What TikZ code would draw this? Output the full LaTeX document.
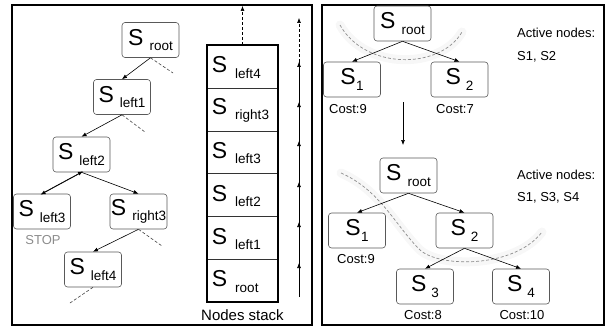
\documentclass[tikz,border=0pt]{standalone}
\usepackage{fontspec}
\setmainfont{Liberation Sans}
\usetikzlibrary{arrows.meta}
\newcommand{\sn}[2][6pt]{{\fontsize{23}{23}\selectfont S}\hspace{#1}\raisebox{-5.5pt}{\fontsize{13.5}{13.5}\selectfont #2}}
\begin{document}
\begin{tikzpicture}[x=1pt,y=-1pt,
  sbox/.style={draw=black!65,rounded corners=3pt,minimum width=57pt,minimum height=35pt,inner sep=0pt,line width=0.6pt},
  cell/.style={draw=black!80,minimum width=71pt,minimum height=42.8pt,inner sep=0pt,line width=0.6pt},
  celltext/.style={anchor=west,inner sep=0pt},
  arr/.style={-{Latex[length=5pt,width=4pt]},line width=0.6pt},
  dsh/.style={dashed,dash pattern=on 3pt off 2pt,line width=0.6pt,black!75},
  lbl/.style={font=\fontsize{13}{13}\selectfont,inner sep=0pt},
  act/.style={font=\fontsize{13}{14}\selectfont,anchor=west,inner sep=0pt},
  frame/.style={line width=1.6pt},
  curve/.style={dashed,dash pattern=on 3pt off 2pt,black!45,line width=0.7pt},
  glow/.style={black!3,line width=9pt,line cap=round}
]
\useasboundingbox (0,0) rectangle (608,329);
% frames
\draw[frame] (12,5) rectangle (312,325);
\draw[frame] (322,5) rectangle (604,325);

% ---------------- left tree
\node[sbox] (lroot) at (150.5,40) {\sn{root}};
\node[sbox] (l1) at (122,97) {\sn{left1}};
\node[sbox] (l2) at (81.5,154.5) {\sn{left2}};
\node[sbox] (l3) at (42,211.5) {\sn{left3}};
\node[sbox] (r3) at (138.5,211.5) {\sn{right3}};
\node[sbox] (l4) at (93,269.5) {\sn{left4}};
\node[font=\fontsize{13}{13}\selectfont,text=black!45,inner sep=0pt] (stop) at (43,240) {STOP};

\draw[arr] (lroot.south) -- (l1.north);
\draw[arr] (l1.south) -- (l2.north);
\draw[arr] ([xshift=-1.5pt,yshift=-1pt]l2.south) -- ([xshift=-1.5pt,yshift=-1pt]l3.north);
\draw[arr] ([xshift=1.5pt,yshift=1pt]l3.north) -- ([xshift=1.5pt,yshift=1pt]l2.south);
\draw[arr] (l2.south) -- (r3.north);
\draw[arr] (r3.south) -- (l4.north);
\coordinate (d1) at (173,73);
\coordinate (d2) at (145,132);
\coordinate (d3) at (162,246);
\coordinate (d4) at (70,303);
\draw[dsh] (lroot.south) -- (d1);
\draw[dsh] (l1.south) -- (d2);
\draw[dsh] (r3.south) -- (d3);
\draw[dsh] (l4.south) -- (d4);

% ---------------- stack
\node[cell] (c1) at (242.5,280.6) {};
\node[cell] (c2) at (242.5,237.8) {};
\node[cell] (c3) at (242.5,195.0) {};
\node[cell] (c4) at (242.5,152.2) {};
\node[cell] (c5) at (242.5,109.4) {};
\node[cell] (c6) at (242.5,66.6) {};
\node[celltext] at ([xshift=5pt,yshift=-1pt]c1.west) {\sn[8pt]{root}};
\node[celltext] at ([xshift=5pt,yshift=-1pt]c2.west) {\sn[8pt]{left1}};
\node[celltext] at ([xshift=5pt,yshift=-1pt]c3.west) {\sn[8pt]{left2}};
\node[celltext] at ([xshift=5pt,yshift=-1pt]c4.west) {\sn[8pt]{left3}};
\node[celltext] at ([xshift=5pt,yshift=-1pt]c5.west) {\sn[8pt]{right3}};
\node[celltext] at ([xshift=5pt,yshift=-1pt]c6.west) {\sn[8pt]{left4}};
\draw[line width=2pt] (c6.north west) rectangle (c1.south east);
\node[font=\fontsize{15}{15}\selectfont,inner sep=0pt] (nstack) at (242.5,315) {Nodes stack};
\coordinate (stop1) at (242.5,6);
\draw[dsh,black,-{Latex[length=5pt,width=4pt]}] (c6.north) -- (stop1);

% vertical arrow line
\coordinate (v0) at (299,297);
\coordinate (v1) at (299,263);
\coordinate (v2) at (299,222);
\coordinate (v3) at (299,182);
\coordinate (v4) at (299,141);
\coordinate (v5) at (299,102);
\coordinate (v6) at (299,62);
\coordinate (v7) at (299,18);
\draw[line width=0.6pt] (v0) -- (v6);
\foreach \p in {v1,v2,v3,v4,v5,v6}
  \draw[arr] ([yshift=-6pt]\p) -- (\p);
\draw[dsh,black,-{Latex[length=5pt,width=4pt]}] (v6) -- (v7);

% ---------------- right panel, top
\draw[glow] (340,25) .. controls (365,70) and (440,70) .. (462,32);
\draw[curve] (340,25) .. controls (365,70) and (440,70) .. (462,32);
\node[sbox] (troot) at (402.5,23.5) {\sn{root}};
\node[sbox] (t1) at (352,79.5) {\sn[0.5pt]{1}};
\node[sbox] (t2) at (459.5,79.5) {\sn[5pt]{2}};
\draw[arr] (troot.south) -- (t1.north);
\draw[arr] (troot.south) -- (t2.north);
\node[lbl] (tc1) at (348,109) {Cost:9};
\node[lbl] (tc2) at (455,109) {Cost:7};
\node[act] (ta1) at (517,33) {Active nodes:};
\node[act] (ta2) at (517,57) {S1, S2};
\coordinate (da) at (403,102);
\coordinate (db) at (403,145);
\draw[arr] (da) -- (db);

% ---------------- right panel, bottom
\draw[glow] (341,173) .. controls (380,190) and (395,225) .. (420,250) .. controls (440,268) and (515,268) .. (542,232);
\draw[curve] (341,173) .. controls (380,190) and (395,225) .. (420,250) .. controls (440,268) and (515,268) .. (542,232);
\node[sbox] (broot) at (408.5,175.5) {\sn{root}};
\node[sbox] (b1) at (357,230.5) {\sn[0.5pt]{1}};
\node[sbox] (b2) at (464.5,230.5) {\sn[5pt]{2}};
\node[sbox] (b3) at (425,286.5) {\sn[5pt]{3}};
\node[sbox] (b4) at (521,286.5) {\sn[5pt]{4}};
\draw[arr] (broot.south) -- (b1.north);
\draw[arr] (broot.south) -- (b2.north);
\draw[arr] (b2.south) -- (b3.north);
\draw[arr] (b2.south) -- (b4.north);
\node[lbl] (bc1) at (356,259) {Cost:9};
\node[lbl] (bc3) at (423,315) {Cost:8};
\node[lbl] (bc4) at (522,315) {Cost:10};
\node[act] (ba1) at (517,175) {Active nodes:};
\node[act] (ba2) at (517,198) {S1, S3, S4};
\end{tikzpicture}
\end{document}
